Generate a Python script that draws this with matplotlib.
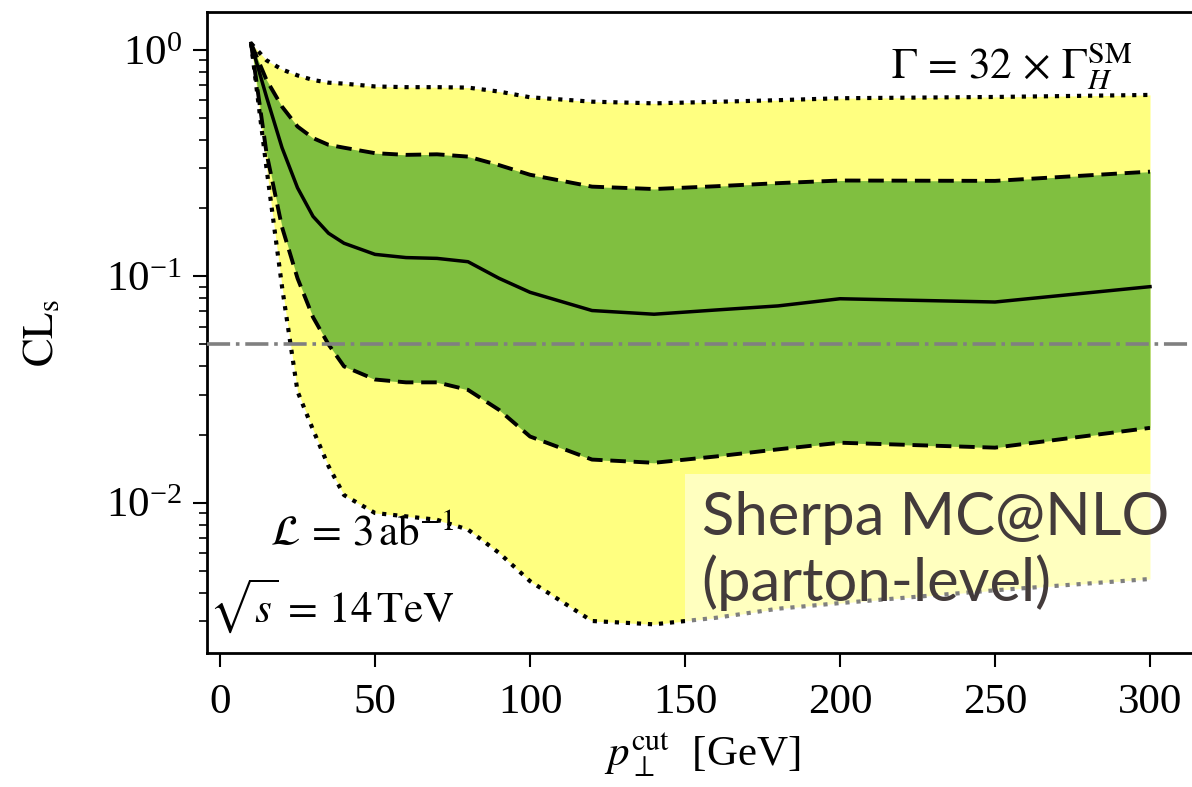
import matplotlib
matplotlib.use('Agg')
import numpy as np
import matplotlib.pyplot as plt

plt.rcParams['font.family'] = 'Liberation Serif'
plt.rcParams['mathtext.fontset'] = 'stix'
plt.rcParams['font.size'] = 31

# pT cut values [GeV]
ptcut = [10, 15, 20, 25, 30, 35, 40, 50, 60, 70, 80, 90, 100, 120, 140, 160, 180, 200, 250, 300]

# expected CLs (median) and the 1 / 2 sigma bands
cls_med = [1.07, 0.62, 0.37, 0.246, 0.184, 0.155, 0.14, 0.125, 0.121, 0.12, 0.116, 0.098, 0.085,
           0.0706, 0.068, 0.071, 0.074, 0.0796, 0.077, 0.09]
cls_up1 = [1.07, 0.737, 0.562, 0.459, 0.408, 0.381, 0.37, 0.35, 0.344, 0.346, 0.338, 0.31, 0.281,
           0.249, 0.243, 0.25, 0.258, 0.265, 0.264, 0.29]
cls_dn1 = [1.07, 0.35, 0.165, 0.098, 0.066, 0.05, 0.04, 0.035, 0.034, 0.034, 0.0315, 0.0257, 0.0196,
           0.0155, 0.015, 0.016, 0.0172, 0.0184, 0.0175, 0.0214]
cls_up2 = [1.07, 0.90, 0.82, 0.772, 0.737, 0.717, 0.71, 0.69, 0.685, 0.685, 0.682, 0.655, 0.618,
           0.591, 0.581, 0.59, 0.60, 0.612, 0.62, 0.633]
cls_dn2 = [1.07, 0.30, 0.09, 0.031, 0.021, 0.0145, 0.0108, 0.009, 0.0087, 0.0084, 0.0076, 0.006, 0.0045,
           0.0030, 0.0029, 0.0031, 0.0034, 0.0036, 0.0041, 0.0046]

cls_limit = 0.05

fig = plt.figure(figsize=(11.92, 7.87), dpi=100)
ax = fig.add_axes([207 / 1192, 1 - 653.3 / 787, (1196.5 - 207) / 1192, (653.3 - 11.7) / 787])

ax.fill_between(ptcut, cls_dn2, cls_up2, color='#ffff80', lw=0, zorder=1)
ax.fill_between(ptcut, cls_dn1, cls_up1, color='#80bf40', lw=0, zorder=2)
ax.plot(ptcut, cls_up2, color='k', ls=':', lw=3.0, zorder=3)
ax.plot(ptcut, cls_dn2, color='k', ls=':', lw=3.0, zorder=3)
ax.plot(ptcut, cls_up1, color='k', ls=(0, (4, 2)), lw=2.8, zorder=3)
ax.plot(ptcut, cls_dn1, color='k', ls=(0, (4, 2)), lw=2.8, zorder=3)
ax.plot(ptcut, cls_med, color='k', ls='-', lw=2.5, zorder=3)
ax.axhline(cls_limit, color='gray', ls='-.', lw=2.6, zorder=4)

ax.set_yscale('log')
ax.set_ylim(0.00216, 1.476)
ax.set_xlim(-4.2, 315)
ax.set_xticks([0, 50, 100, 150, 200, 250, 300])

ax.tick_params(which='major', direction='out', length=10, width=1.5, pad=12)
ax.tick_params(which='minor', direction='out', length=6, width=1.2)
ax.tick_params(axis='y', which='major', pad=8)
for s in ax.spines.values():
    s.set_linewidth(2)

ax.set_ylabel(r'$\mathrm{CL_s}$', labelpad=32)
ax.set_xlabel(r'$p_\perp^{\mathrm{cut}}$  [GeV]', labelpad=6)

ax.text(0.935, 0.955, r'$\Gamma\, =\, 32\, \times\, \Gamma_H^{\mathrm{SM}}$', transform=ax.transAxes,
        ha='right', va='top')
ax.text(0.25, 0.185, r'$\mathcal{L}\, =\, 3\,\mathrm{ab}^{-1}$', transform=ax.transAxes,
        ha='right', va='center')
ax.text(0.25, 0.075, r'$\sqrt{s}\, =\, 14\,\mathrm{TeV}$', transform=ax.transAxes,
        ha='right', va='center')

ax.text(0.50, 0.16, 'Sherpa MC@NLO\n(parton-level)', transform=ax.transAxes, family='Lato',
        fontsize=43, color='#433b3b', ha='left', va='center', linespacing=1.2, zorder=6,
        bbox=dict(facecolor='white', alpha=0.5, edgecolor='none', pad=12))

fig.savefig('out.png', dpi=100)
